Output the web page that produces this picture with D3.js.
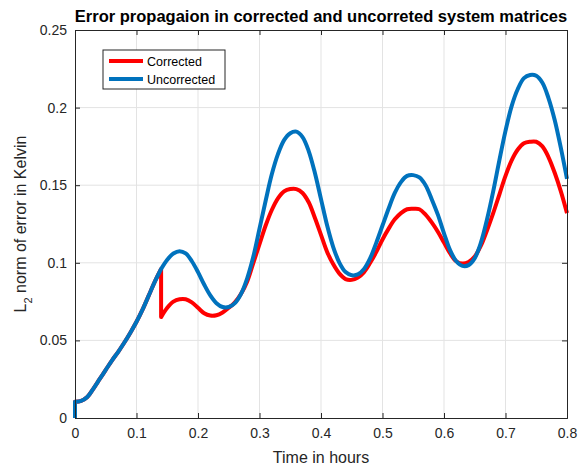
<!DOCTYPE html>
<html>
<head>
<meta charset="utf-8">
<script src="https://cdn.jsdelivr.net/npm/d3@7"></script>
<style>
  html, body { margin: 0; padding: 0; background: #fff; }
  svg { display: block; font-family: "Liberation Sans", Arial, Helvetica, sans-serif; }
</style>
</head>
<body>
<svg id="chart" width="585" height="465"></svg>
<script>
// Time samples (hours); repeated values mark the vertical steps at t = 0 and t = 0.14
const time = [
  0, 0, 0.01, 0.02, 0.03, 0.04, 0.05, 0.06, 0.07, 0.08, 0.09,
  0.10, 0.11, 0.12, 0.13, 0.14, 0.14, 0.15, 0.16, 0.17, 0.18, 0.19,
  0.20, 0.21, 0.22, 0.23, 0.24, 0.25, 0.26, 0.27, 0.28, 0.29,
  0.30, 0.31, 0.32, 0.33, 0.34, 0.35, 0.36, 0.37, 0.38, 0.39,
  0.40, 0.41, 0.42, 0.43, 0.44, 0.45, 0.46, 0.47, 0.48, 0.49,
  0.50, 0.51, 0.52, 0.53, 0.54, 0.55, 0.56, 0.57, 0.58, 0.59,
  0.60, 0.61, 0.62, 0.63, 0.64, 0.65, 0.66, 0.67, 0.68, 0.69,
  0.70, 0.71, 0.72, 0.73, 0.74, 0.75, 0.76, 0.77, 0.78, 0.79, 0.80
];

// L2 norm of the error with the corrected system matrices (K)
const corrected = [
  0, 0.0105, 0.011, 0.0135, 0.019, 0.025, 0.031, 0.037, 0.0425, 0.0485, 0.055,
  0.062, 0.070, 0.079, 0.088, 0.096, 0.065, 0.071, 0.075, 0.0765, 0.0765, 0.0745,
  0.071, 0.0675, 0.066, 0.0662, 0.068, 0.071, 0.0745, 0.080, 0.088, 0.100,
  0.112, 0.124, 0.134, 0.1415, 0.146, 0.1475, 0.1475, 0.145, 0.139, 0.129,
  0.118, 0.107, 0.099, 0.093, 0.0895, 0.089, 0.0905, 0.094, 0.100, 0.107,
  0.115, 0.122, 0.128, 0.132, 0.1345, 0.1348, 0.1345, 0.131, 0.126, 0.120,
  0.113, 0.106, 0.101, 0.0995, 0.1005, 0.104, 0.111, 0.121, 0.132, 0.144,
  0.156, 0.166, 0.173, 0.177, 0.178, 0.178, 0.175, 0.168, 0.158, 0.146, 0.132
];

// L2 norm of the error with the uncorrected system matrices (K)
const uncorrected = [
  0, 0.0105, 0.011, 0.0135, 0.019, 0.025, 0.031, 0.037, 0.0425, 0.0485, 0.055,
  0.062, 0.070, 0.079, 0.088, 0.096, 0.096, 0.102, 0.106, 0.1075, 0.106, 0.101,
  0.094, 0.086, 0.079, 0.074, 0.0715, 0.0715, 0.074, 0.080, 0.090, 0.104,
  0.122, 0.140, 0.157, 0.170, 0.179, 0.1835, 0.1845, 0.181, 0.172, 0.158,
  0.141, 0.124, 0.110, 0.100, 0.094, 0.092, 0.0925, 0.096, 0.103, 0.113,
  0.124, 0.135, 0.145, 0.152, 0.156, 0.1565, 0.155, 0.150, 0.141, 0.131,
  0.119, 0.108, 0.101, 0.098, 0.0985, 0.103, 0.113, 0.128, 0.146, 0.166,
  0.185, 0.201, 0.212, 0.219, 0.221, 0.2205, 0.216, 0.206, 0.192, 0.174, 0.154
];

const xTicks = [0, 0.1, 0.2, 0.3, 0.4, 0.5, 0.6, 0.7, 0.8];
const yTicks = [0, 0.05, 0.1, 0.15, 0.2, 0.25];

const seriesNames = ["Corrected", "Uncorrected"];
const seriesColors = ["#ff0000", "#0072bd"];

const svg = d3.select("#chart");
const margin = { left: 75, right: 18, top: 30, bottom: 47 };
const W = 585, H = 465;
const pw = W - margin.left - margin.right;
const ph = H - margin.top - margin.bottom;

const x = d3.scaleLinear().domain([0, 0.8]).range([0, pw]);
const y = d3.scaleLinear().domain([0, 0.25]).range([ph, 0]);

const g = svg.append("g").attr("transform", `translate(${margin.left},${margin.top})`);

// grid
g.append("g").selectAll("line").data(xTicks.slice(1, -1)).join("line")
  .attr("x1", d => x(d)).attr("x2", d => x(d)).attr("y1", 0).attr("y2", ph)
  .attr("stroke", "#e3e3e3").attr("stroke-width", 1);
g.append("g").selectAll("line").data(yTicks.slice(1, -1)).join("line")
  .attr("y1", d => y(d)).attr("y2", d => y(d)).attr("x1", 0).attr("x2", pw)
  .attr("stroke", "#e3e3e3").attr("stroke-width", 1);

// series: smooth runs joined by straight steps where a time value repeats
const smooth = d3.line().x(d => x(d[0])).y(d => y(d[1])).curve(d3.curveCatmullRom.alpha(0.5));
function pathFor(values) {
  const pts = time.map((t, i) => [t, values[i]]);
  const runs = [];
  let run = [pts[0]];
  for (let i = 1; i < pts.length; i++) {
    if (pts[i][0] === pts[i - 1][0]) { runs.push(run); run = [pts[i]]; }
    else run.push(pts[i]);
  }
  runs.push(run);
  return runs.map((r, k) => {
    const s = r.length > 1 ? smooth(r) : `M${x(r[0][0])},${y(r[0][1])}`;
    return k === 0 ? s : "L" + s.slice(1);
  }).join("");
}

[corrected, uncorrected].forEach((vals, i) => {
  g.append("path")
    .attr("d", pathFor(vals))
    .attr("fill", "none")
    .attr("stroke", seriesColors[i])
    .attr("stroke-width", 4)
    .attr("stroke-linejoin", "round")
    .attr("stroke-linecap", "butt");
});

// axes (ticks inside, mirrored on top and right)
const axisColor = "#262626";
const tickLen = 5;
const fmt = d => d === 0 ? "0" : String(+d.toFixed(2));

const xb = g.append("g").attr("transform", `translate(0,${ph})`)
  .call(d3.axisBottom(x).tickValues(xTicks).tickSize(-tickLen).tickPadding(10).tickFormat(fmt));
const xt = g.append("g")
  .call(d3.axisTop(x).tickValues(xTicks).tickSize(-tickLen).tickFormat(""));
const yl = g.append("g")
  .call(d3.axisLeft(y).tickValues(yTicks).tickSize(-tickLen).tickPadding(8).tickFormat(fmt));
const yr = g.append("g").attr("transform", `translate(${pw},0)`)
  .call(d3.axisRight(y).tickValues(yTicks).tickSize(-tickLen).tickFormat(""));

[xb, xt, yl, yr].forEach(a => {
  a.select(".domain").attr("stroke", axisColor).attr("stroke-width", 1);
  a.selectAll(".tick line").attr("stroke", axisColor);
  a.selectAll(".tick text").attr("fill", axisColor)
    .style("font-size", "14px").style("font-family", "'Liberation Sans', Arial, sans-serif");
});

// title and axis labels
svg.append("text")
  .attr("x", margin.left + pw / 2).attr("y", 22)
  .attr("text-anchor", "middle")
  .style("font-size", "16.5px").style("font-weight", "bold")
  .attr("fill", "#000")
  .text("Error propagaion in corrected and uncorreted system matrices");

svg.append("text")
  .attr("x", margin.left + pw / 2).attr("y", 463)
  .attr("text-anchor", "middle")
  .style("font-size", "16px")
  .attr("fill", axisColor)
  .text("Time in hours");

const yLabel = svg.append("text")
  .attr("transform", `translate(26,${margin.top + ph / 2}) rotate(-90)`)
  .attr("text-anchor", "middle")
  .style("font-size", "16px")
  .attr("fill", axisColor);
yLabel.append("tspan").text("L");
yLabel.append("tspan").attr("baseline-shift", "sub").style("font-size", "11px").text("2");
yLabel.append("tspan").text(" norm of error in Kelvin");

// legend
const lg = svg.append("g").attr("transform", "translate(103,50)");
lg.append("rect").attr("width", 122).attr("height", 39)
  .attr("fill", "#fff").attr("stroke", axisColor).attr("stroke-width", 1);
seriesNames.forEach((name, i) => {
  const yy = 11 + i * 18;
  lg.append("line").attr("x1", 6).attr("x2", 40).attr("y1", yy).attr("y2", yy)
    .attr("stroke", seriesColors[i]).attr("stroke-width", 4);
  lg.append("text").attr("x", 44).attr("y", yy + 4.5)
    .style("font-size", "12.5px").attr("fill", "#000").text(name);
});
</script>
</body>
</html>
